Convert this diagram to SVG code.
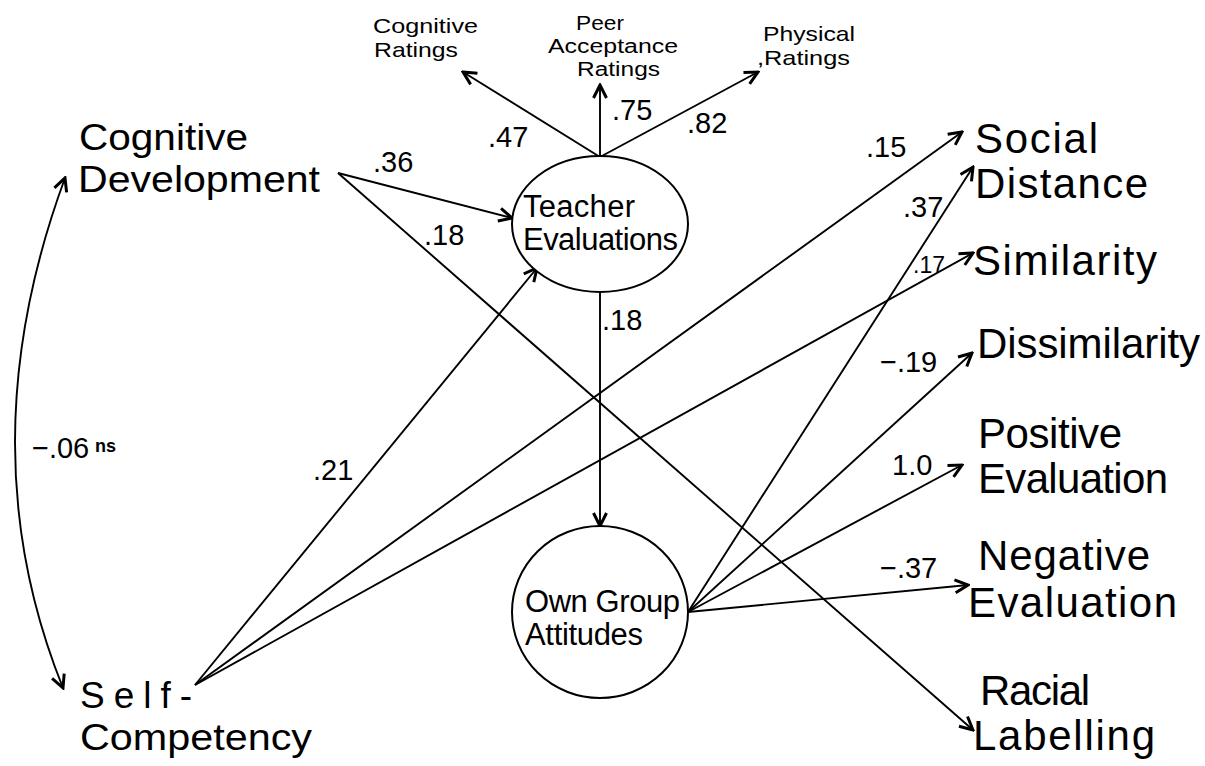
<svg xmlns="http://www.w3.org/2000/svg" width="1205" height="766" viewBox="0 0 1205 766">
<style>
text{font-family:"Liberation Sans",Arial,sans-serif;fill:#000}
.big{font-size:42px}
.left{font-size:37px}
.mid{font-size:31px}
.sm{font-size:21px}
.lab{font-size:29px}
.edge{stroke:#000;stroke-width:1.9;fill:none;marker-end:url(#ah)}
.node{fill:#fff;stroke:#000;stroke-width:2}
</style>
<defs>
<marker id="ah" viewBox="0 0 18 18" refX="16" refY="9" markerWidth="18" markerHeight="18" markerUnits="userSpaceOnUse" orient="auto-start-reverse">
<path d="M3,2.5 L16,9 L3,15.5" fill="none" stroke="#000" stroke-width="3"/>
</marker>
</defs>
<rect width="1205" height="766" fill="#fff"/>
<g id="connectors">
<path class="edge" d="M600,157 L463,72"/>
<path class="edge" d="M600,157 L600,85"/>
<path class="edge" d="M600,157 L758,72"/>
<path class="edge" d="M338,173 L512,218"/>
<path class="edge" d="M338,173 L973,730"/>
<path class="edge" d="M600,292 L600,526"/>
<path class="edge" d="M195,685 L537,268"/>
<path class="edge" d="M195,685 L962,132"/>
<path class="edge" d="M195,685 L973,253"/>
<path class="edge" d="M688,612 L973,167"/>
<path class="edge" d="M688,612 L972,353"/>
<path class="edge" d="M688,612 L962,465"/>
<path class="edge" d="M688,612 L968,585"/>
<path class="edge" style="marker-start:url(#ah)" d="M65,178 Q-34,447 63,688"/>
</g>
<g id="edge-labels">
<text class="lab" x="488" y="147">.47</text>
<text class="lab" x="612" y="120">.75</text>
<text class="lab" x="687" y="133">.82</text>
<text class="lab" x="373" y="172">.36</text>
<text class="lab" x="424" y="245">.18</text>
<text class="lab" x="602" y="330">.18</text>
<text class="lab" x="313" y="480">.21</text>
<text class="lab" x="866" y="157">.15</text>
<text class="lab" x="903" y="217">.37</text>
<text class="lab" x="913" y="273" style="font-size:23px">.17</text>
<text class="lab" x="880" y="372">−.19</text>
<text class="lab" x="892" y="475">1.0</text>
<text class="lab" x="880" y="578">−.37</text>
<text x="32" y="458" style="font-size:29px">−.06</text>
<text x="95" y="452" style="font-size:18px;font-weight:bold">ns</text>
</g>
<g id="cognitive-ratings">
<text class="sm" x="373" y="33" textLength="105" lengthAdjust="spacingAndGlyphs">Cognitive</text>
<text class="sm" x="374" y="57" textLength="84" lengthAdjust="spacingAndGlyphs">Ratings</text>
</g>
<g id="peer-acceptance-ratings">
<text class="sm" x="576" y="30" textLength="48" lengthAdjust="spacingAndGlyphs" style="font-size:20px">Peer</text>
<text class="sm" x="548" y="53" textLength="130" lengthAdjust="spacingAndGlyphs" style="font-size:20px">Acceptance</text>
<text class="sm" x="577" y="76" textLength="83" lengthAdjust="spacingAndGlyphs" style="font-size:20px">Ratings</text>
</g>
<g id="physical-ratings">
<text class="sm" x="763" y="41" textLength="92" lengthAdjust="spacingAndGlyphs">Physical</text>
<text class="sm" x="757" y="65" textLength="93" lengthAdjust="spacingAndGlyphs">,Ratings</text>
</g>
<g id="cognitive-development">
<text class="left" x="79" y="150" textLength="169" lengthAdjust="spacingAndGlyphs">Cognitive</text>
<text class="left" x="78" y="192" textLength="242" lengthAdjust="spacingAndGlyphs">Development</text>
</g>
<g id="self-competency">
<text class="left" x="80" y="708" textLength="112">Self-</text>
<text class="left" x="80" y="750" textLength="232" lengthAdjust="spacingAndGlyphs">Competency</text>
</g>
<g id="teacher-evaluations">
<ellipse class="node" cx="600" cy="224" rx="88" ry="68"/>
<text class="mid" x="523" y="217" textLength="112">Teacher</text>
<text class="mid" x="523" y="250" textLength="155">Evaluations</text>
</g>
<g id="own-group-attitudes">
<ellipse class="node" cx="600" cy="612" rx="88" ry="86"/>
<text class="mid" x="525" y="612" textLength="155">Own Group</text>
<text class="mid" x="525" y="645" textLength="118">Attitudes</text>
</g>
<g id="social-distance">
<text class="big" x="975" y="153" textLength="123">Social</text>
<text class="big" x="975" y="198" textLength="173">Distance</text>
</g>
<g id="similarity">
<text class="big" x="973" y="275" textLength="184">Similarity</text>
</g>
<g id="dissimilarity">
<text class="big" x="977" y="358" textLength="223">Dissimilarity</text>
</g>
<g id="positive-evaluation">
<text class="big" x="978" y="448" textLength="144">Positive</text>
<text class="big" x="978" y="493" textLength="190">Evaluation</text>
</g>
<g id="negative-evaluation">
<text class="big" x="978" y="570" textLength="172">Negative</text>
<text class="big" x="968" y="617" textLength="209">Evaluation</text>
</g>
<g id="racial-labelling">
<text class="big" x="980" y="705" textLength="110">Racial</text>
<text class="big" x="973" y="750" textLength="182">Labelling</text>
</g>
</svg>
